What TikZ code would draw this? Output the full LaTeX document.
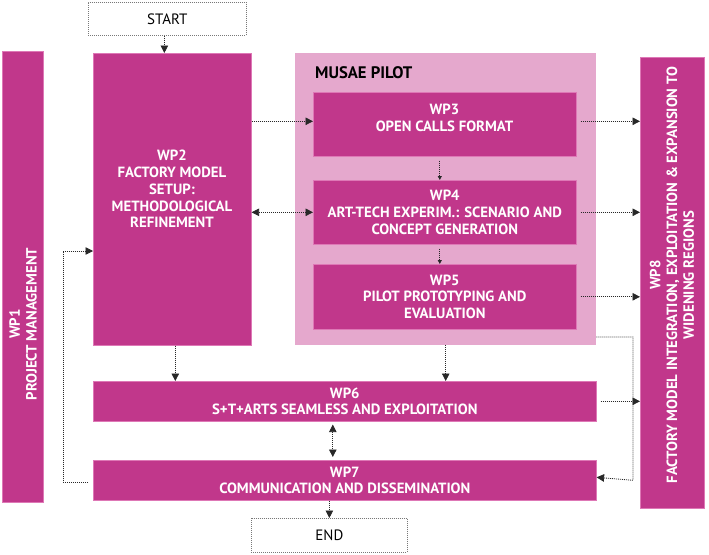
\documentclass[tikz,border=0pt]{standalone}
\usepackage{fontspec}
\setmainfont{PT Sans}
\usetikzlibrary{arrows.meta}
\definecolor{mag}{RGB}{193,55,139}
\definecolor{lpink}{RGB}{229,168,205}
\definecolor{edgepink}{RGB}{222,120,182}
\definecolor{dotc}{RGB}{40,40,40}
\definecolor{boxgray}{RGB}{120,120,120}
\tikzset{
  wpbox/.style={draw=edgepink, line width=0.6pt, fill=mag, anchor=north west, inner sep=0pt},
  pilotbox/.style={fill=lpink, anchor=north west, inner sep=0pt},
  termbox/.style={draw=boxgray, dash pattern=on 1pt off 1pt, line width=0.7pt, fill=white, anchor=north west, inner sep=0pt, font=\fontsize{15}{18}\selectfont},
  wptext/.style={text=white, font=\bfseries\fontsize{14.8}{16.8}\selectfont, align=center, inner sep=0pt},
  conn/.style={draw=dotc, dash pattern=on 1pt off 1pt, line width=0.8pt},
  big/.style={-{Triangle[length=7.5pt,width=7.5pt]}},
  bigboth/.style={{Triangle[length=7.5pt,width=7.5pt]}-{Triangle[length=7.5pt,width=7.5pt]}},
  small/.style={-{Triangle[length=4pt,width=4pt]}}
}
\begin{document}
\begin{tikzpicture}[x=1pt,y=-1pt]
\useasboundingbox (0,0) rectangle (709,554);
\fill[white] (0,0) rectangle (709,554);

% boxes
\node[termbox, minimum width=158pt, minimum height=33pt] (start) at (88,2) {START};
\node[wpbox, minimum width=41pt, minimum height=451pt] (wp1) at (2,51) {};
\node[wpbox, minimum width=158pt, minimum height=292pt] (wp2) at (93,53) {};
\node[pilotbox, minimum width=301pt, minimum height=292pt] (musae) at (295,53) {};
\node[wpbox, minimum width=263pt, minimum height=64pt] (wp3) at (313,92) {};
\node[wpbox, minimum width=263pt, minimum height=64pt] (wp4) at (313,180) {};
\node[wpbox, minimum width=263pt, minimum height=65pt] (wp5) at (313,264) {};
\node[wpbox, minimum width=503pt, minimum height=40pt] (wp6) at (93,381) {};
\node[wpbox, minimum width=503pt, minimum height=40pt] (wp7) at (93,460) {};
\node[wpbox, minimum width=64pt, minimum height=451pt] (wp8) at (640,57) {};
\node[termbox, minimum width=156pt, minimum height=34pt] (end) at (251,518) {END};

% texts
\node[wptext, rotate=90] (wp1t) at (23,324) {WP1\\PROJECT MANAGEMENT};
\node[wptext] (wp2t) at (172,189) {WP2\\FACTORY MODEL\\SETUP:\\METHODOLOGICAL\\REFINEMENT};
\node[anchor=west, inner sep=0pt, font=\bfseries\fontsize{16.7}{19}\selectfont] (musaet) at (315,73) {MUSAE PILOT};
\node[wptext] (wp3t) at (444.5,117.5) {WP3\\OPEN CALLS FORMAT};
\node[wptext] (wp4t) at (wp4.center) {WP4\\ART-TECH EXPERIM.: SCENARIO AND\\CONCEPT GENERATION};
\node[wptext] (wp5t) at (wp5.center) {WP5\\PILOT PROTOTYPING AND\\EVALUATION};
\node[wptext] (wp6t) at (wp6.center) {WP6\\S+T+ARTS SEAMLESS AND EXPLOITATION};
\node[wptext] (wp7t) at (wp7.center) {WP7\\COMMUNICATION AND DISSEMINATION};
\node[wptext, rotate=90] (wp8t) at (672,275) {WP8\\FACTORY MODEL INTEGRATION, EXPLOITATION \& EXPANSION TO\\WIDENING REGIONS};

% helper coordinates
\coordinate (rc) at (633,337);
\coordinate (lc) at (63,251);

% connectors
\draw[conn, big] ([xshift=-3pt]start.south) -- ([xshift=-3pt]start.south |- wp2.north);
\draw[conn, big] ([yshift=3pt]wp2.east |- wp3.west) -- ([yshift=3pt]wp3.west);
\draw[conn, bigboth] (wp2.east |- wp4.west) -- (wp4.west);
\draw[conn, small, shorten <=4pt] ([xshift=-5pt]wp3.south) -- ([xshift=-5pt]wp4.north);
\draw[conn, small, shorten <=4pt] ([xshift=-5pt]wp4.south) -- ([xshift=-5pt]wp5.north);
\draw[conn, big, shorten <=4pt] ([yshift=3pt]wp3.east) -- ([yshift=3pt]wp3.east -| wp8.west);
\draw[conn, big, shorten <=4pt] (wp4.east) -- (wp4.east -| wp8.west);
\draw[conn, big, shorten <=4pt] (wp5.east) -- (wp5.east -| wp8.west);
\draw[conn, big, shorten <=4pt] (wp6.east) -- (wp6.east -| wp8.west);
\draw[conn, big] (musae.east |- rc) -- (rc) -- (rc |- wp7.east) -- ([yshift=3pt]wp7.east);
\draw[conn, big] ([xshift=3pt]wp2.south) -- ([xshift=3pt]wp2.south |- wp6.north);
\draw[conn, big] (musae.south) -- (musae.south |- wp6.north);
\draw[conn, bigboth, shorten <=3pt, shorten >=3pt] ([xshift=-12pt]wp6.south) -- ([xshift=-12pt]wp7.north);
\draw[conn, big] (end.north |- wp7.south) -- (end.north);
\draw[conn, big, shorten <=5pt] ([yshift=-2pt]wp7.west) -- ([yshift=-2pt]wp7.west -| lc) -- (lc) -- (lc -| wp2.west);
\end{tikzpicture}
\end{document}
